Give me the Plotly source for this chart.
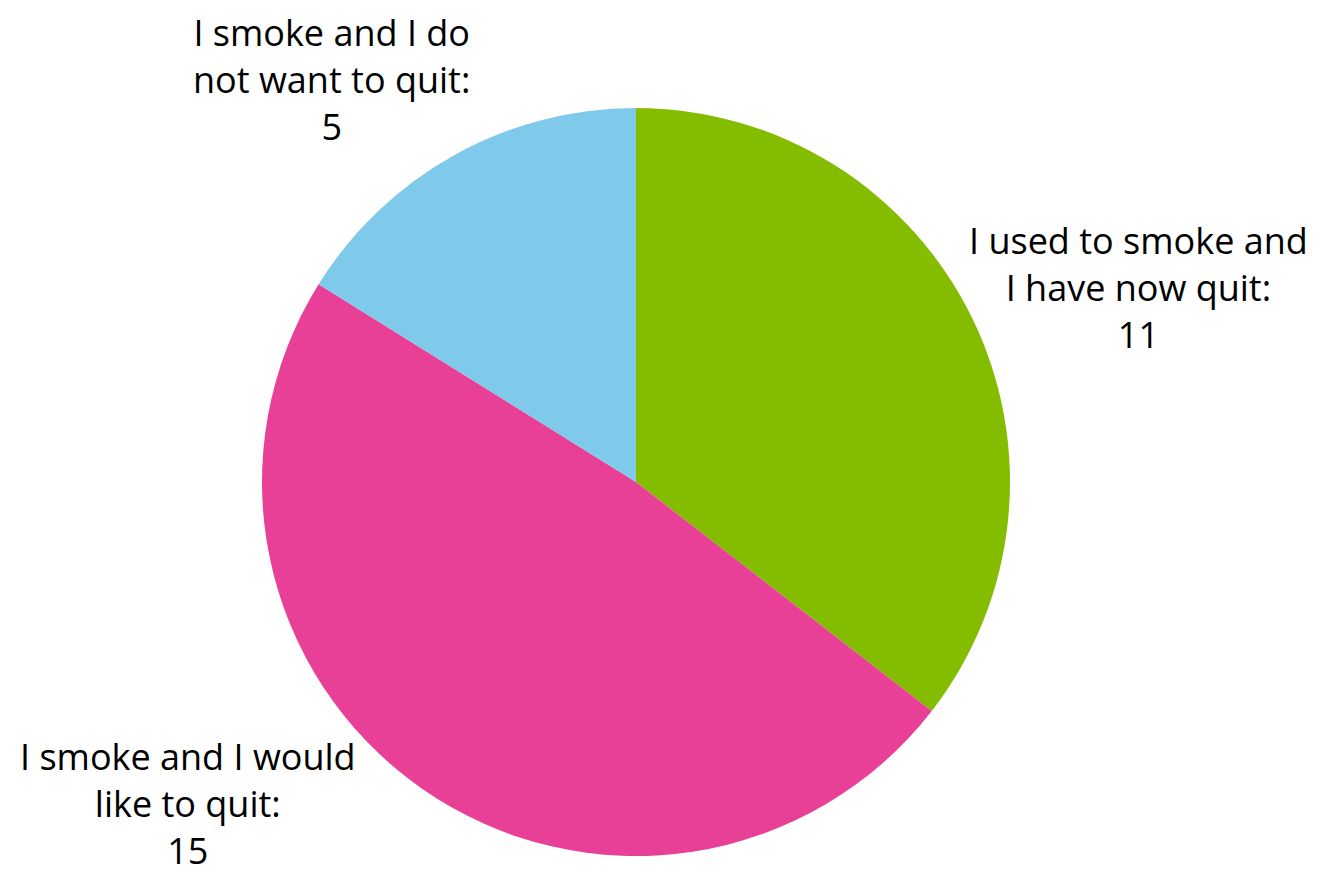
import plotly.graph_objects as go

labels = ["I used to smoke and<br>I have now quit:",
          "I smoke and I would<br>like to quit:",
          "I smoke and I do<br>not want to quit:"]
values = [11, 15, 5]
colors = ["#84BC00", "#E84097", "#7FCAEA"]

W, H = 1320, 877
OFF = 8  # page body margin
cx, cy, r = 636 - OFF, 482 - OFF, 374

fig = go.Figure(go.Pie(
    labels=labels, values=values, sort=False, direction="clockwise", rotation=0,
    marker=dict(colors=colors, line=dict(width=0)),
    textinfo="none", hoverinfo="label+value", showlegend=False,
    domain=dict(x=[(cx - r) / W, (cx + r) / W], y=[1 - (cy + r) / H, 1 - (cy - r) / H]),
))

label_pos = [(1138, 287), (188, 803), (331, 80)]
for lab, val, (px, py) in zip(labels, values, label_pos):
    fig.add_annotation(x=(px - OFF) / W, y=1 - (py - OFF) / H, xref="paper", yref="paper",
                       text=f"{lab}<br>{val}", showarrow=False, align="center",
                       xanchor="center", yanchor="middle", borderpad=0,
                       font=dict(family="Open Sans", size=36, color="#000000"))

fig.update_layout(width=W, height=H, margin=dict(l=0, r=0, t=0, b=0),
                  paper_bgcolor="white", plot_bgcolor="white")
fig.write_html("out.html")
